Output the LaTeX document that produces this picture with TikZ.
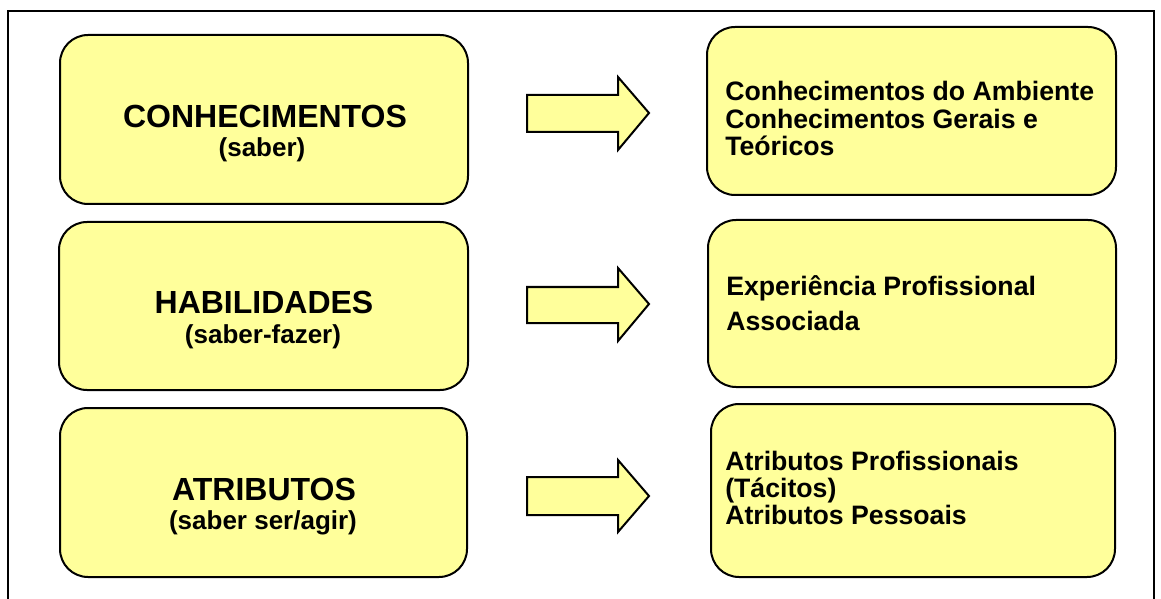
\documentclass[tikz,border=0pt]{standalone}
\usepackage{fontspec}
\setmainfont{Liberation Sans}
\usetikzlibrary{fit}
\definecolor{boxyellow}{RGB}{255,255,155}
\begin{document}
\begin{tikzpicture}[x=0.75pt,y=-0.75pt,
  frameline/.style={draw=black,line width=1.5pt},
  box/.style={draw=black,line width=1.5pt,fill=boxyellow,rounded corners=21pt,inner sep=0pt},
  bigarrow/.style={draw=black,line width=1.5pt,fill=boxyellow,line join=miter},
  title/.style={font=\bfseries\fontsize{24}{26}\selectfont,anchor=base,inner sep=0pt},
  subtitle/.style={font=\bfseries\fontsize{19.5}{22}\selectfont,anchor=base,inner sep=0pt},
  item/.style={font=\bfseries\fontsize{20}{22}\selectfont,anchor=base west,inner sep=0pt}]
\useasboundingbox (0,0) rectangle (1161,599);
\draw[frameline] (8,660) -- (8,11) -- (1154,11) -- (1154,660);

% left boxes
\node[box,fit={(60,35)(468,204)}] (l1) {};
\node[box,fit={(59,222)(468,390)}] (l2) {};
\node[box,fit={(60,408)(467,577)}] (l3) {};
% right boxes
\node[box,fit={(707,27)(1116,195)}] (r1) {};
\node[box,fit={(708,220)(1116,387)}] (r2) {};
\node[box,fit={(711,404)(1115,577)}] (r3) {};

% left texts
\node[title] (l1t) at (265,128) {CONHECIMENTOS};
\node[subtitle] (l1s) at (262,157) {(saber)};
\node[title] (l2t) at (264,314) {HABILIDADES};
\node[subtitle] (l2s) at (263,344) {(saber-fazer)};
\node[title] (l3t) at (264,500) {ATRIBUTOS};
\node[subtitle] (l3s) at (263,529) {(saber ser/agir)};

% right texts
\node[item] (r1a) at (725,101) {Conhecimentos do Ambiente};
\node[item] (r1b) at (725,129) {Conhecimentos Gerais e};
\node[item] (r1c) at (725,156) {Teóricos};
\node[item] (r2a) at (726,296) {Experiência Profissional};
\node[item] (r2b) at (726,330) {Associada};
\node[item] (r3a) at (725,470) {Atributos Profissionais};
\node[item] (r3b) at (725,497) {(Tácitos)};
\node[item] (r3c) at (725,524) {Atributos Pessoais};

% block arrows
\draw[bigarrow] (527,95) -- (618,95) -- (618,77) -- (649,113) -- (618,150) -- (618,132) -- (527,132) -- cycle;
\draw[bigarrow] (527,287) -- (618,287) -- (618,268) -- (649,304) -- (618,341) -- (618,323) -- (527,323) -- cycle;
\draw[bigarrow] (527,477) -- (618,477) -- (618,460) -- (649,496) -- (618,532) -- (618,515) -- (527,515) -- cycle;
\end{tikzpicture}
\end{document}
